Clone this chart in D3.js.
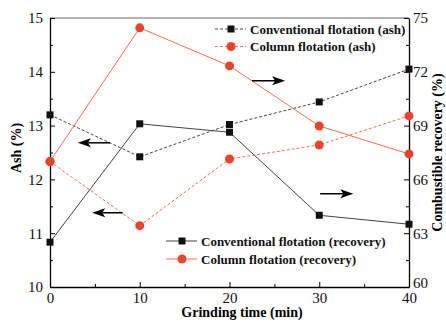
<!DOCTYPE html>
<html>
<head>
<meta charset="utf-8">
<script src="https://cdn.jsdelivr.net/npm/d3@7"></script>
<style>
   body { margin: 0; background: #fff; }
   svg text { font-family: 'Liberation Serif', 'Times New Roman', serif !important; }
</style>
</head>
<body>
<div id="chart"></div>
<script>
// grinding time (min)
const times = [0, 10, 20, 30, 40];
// ash (%) - left axis
const convAsh = [13.2, 12.42, 13.02, 13.44, 14.05];
const colAsh = [12.33, 11.14, 12.38, 12.64, 13.18];
// combustible recovery (%) - right axis
const convRec = [62.5, 69.1, 68.63, 64.0, 63.5];
const colRec = [67.0, 74.45, 72.33, 68.98, 67.42];

const xTicks = [0, 10, 20, 30, 40];
const ashTicks = [10, 11, 12, 13, 14, 15];
const recTicks = [60, 63, 66, 69, 72, 75];

// arrows: [x0, x1, y, axis]
const arrows = [
   [6.7, 3.1, 12.68, 'left'],
   [8.1, 4.7, 11.38, 'left'],
   [22.5, 26.2, 71.5, 'right'],
   [30.1, 33.8, 65.2, 'right']
];

const W = 446, H = 323;
const m = { top: 18, left: 50, right: 37, bottom: 36 };
const iw = W - m.left - m.right, ih = H - m.top - m.bottom;

const RED = '#f0412a', REDLINE = '#f4704f', BLK = '#111', BLKLINE = '#444';

let svg = d3.select('#chart').append('svg')
   .attr('width', W).attr('height', H);

let g = svg.append('g').attr('transform', `translate(${m.left},${m.top})`);

let x = d3.scaleLinear().domain([0, 40]).range([0, iw]);
let yL = d3.scaleLinear().domain([10, 15]).range([ih, 0]);
let yR = d3.scaleLinear().domain([60, 75]).range([ih, 0]);

// top frame line
g.append('line').attr('x1', 0).attr('x2', iw).attr('y1', 0).attr('y2', 0)
   .attr('stroke', '#999').attr('stroke-width', 1.5);

function styleAxis(sel) {
   sel.attr('font-family', null).attr('font-size', 15);
   sel.selectAll('path').attr('stroke', '#000').attr('stroke-width', 1.3);
   sel.selectAll('line').attr('stroke', '#000');
   sel.selectAll('text').attr('fill', '#111');
}

// minor ticks
g.append('g').attr('transform', `translate(0,${ih})`)
   .call(d3.axisBottom(x).tickValues([5, 15, 25, 35]).tickSize(-3).tickFormat(''))
   .call(s => s.select('path').remove()).selectAll('line').attr('stroke', '#000');
g.append('g')
   .call(d3.axisLeft(yL).tickValues([10.5, 11.5, 12.5, 13.5, 14.5]).tickSize(-3).tickFormat(''))
   .call(s => s.select('path').remove()).selectAll('line').attr('stroke', '#000');
g.append('g').attr('transform', `translate(${iw},0)`)
   .call(d3.axisRight(yR).tickValues([61.5, 64.5, 67.5, 70.5, 73.5]).tickSize(-3).tickFormat(''))
   .call(s => s.select('path').remove()).selectAll('line').attr('stroke', '#000');

g.append('g').attr('transform', `translate(0,${ih})`)
   .call(d3.axisBottom(x).tickValues(xTicks).tickFormat(d3.format('d'))
      .tickSizeInner(-5).tickSizeOuter(0).tickPadding(5))
   .call(styleAxis);
g.append('g')
   .call(d3.axisLeft(yL).tickValues(ashTicks).tickFormat(d3.format('d'))
      .tickSizeInner(-5).tickSizeOuter(0).tickPadding(7))
   .call(styleAxis);
g.append('g').attr('transform', `translate(${iw},0)`)
   .call(d3.axisRight(yR).tickValues(recTicks).tickFormat(d3.format('d'))
      .tickSizeInner(-5).tickSizeOuter(0).tickPadding(4))
   .call(styleAxis)
   .selectAll('text').filter(d => d === 60).attr('dy', '0.05em');

// axis titles
svg.append('text').attr('x', 242).attr('y', H - 6)
   .attr('text-anchor', 'middle').attr('font-size', 14).attr('font-weight', 'bold')
   .text('Grinding time (min)');
svg.append('text').attr('transform', `translate(21,148) rotate(-90)`)
   .attr('text-anchor', 'middle').attr('font-size', 14).attr('font-weight', 'bold')
   .text('Ash (%)');
svg.append('text').attr('transform', `translate(442,${m.top + ih / 2}) rotate(-90)`)
   .attr('text-anchor', 'middle').attr('font-size', 14).attr('font-weight', 'bold')
   .text('Combustible recovery (%)');

const series = [
   { vals: convAsh, y: yL, color: BLKLINE, mc: BLK, dash: '3,2', marker: 'square' },
   { vals: colAsh, y: yL, color: REDLINE, mc: RED, dash: '3,2', marker: 'circle' },
   { vals: convRec, y: yR, color: BLKLINE, mc: BLK, dash: null, marker: 'square' },
   { vals: colRec, y: yR, color: REDLINE, mc: RED, dash: null, marker: 'circle' }
];

series.forEach(s => {
   let pts = times.map((t, i) => [t, s.vals[i]]);
   g.append('path')
      .attr('d', d3.line().x(d => x(d[0])).y(d => s.y(d[1]))(pts))
      .attr('fill', 'none').attr('stroke', s.color).attr('stroke-width', 1)
      .attr('stroke-dasharray', s.dash);
   pts.forEach(d => drawMarker(g, s.marker, x(d[0]), s.y(d[1]), s.mc));
});

function drawMarker(parent, type, cx, cy, color) {
   if (type === 'square') {
      parent.append('rect').attr('x', cx - 3.5).attr('y', cy - 3.5)
         .attr('width', 7).attr('height', 7).attr('fill', color);
   } else {
      parent.append('circle').attr('cx', cx).attr('cy', cy).attr('r', 4.5).attr('fill', color);
   }
}

// arrows
arrows.forEach(a => {
   let yy = a[3] === 'left' ? yL(a[2]) : yR(a[2]);
   let x0 = x(a[0]), x1 = x(a[1]);
   let dir = Math.sign(x1 - x0);
   g.append('line').attr('x1', x0).attr('x2', x1 - dir * 10).attr('y1', yy).attr('y2', yy)
      .attr('stroke', '#000').attr('stroke-width', 1.5);
   g.append('path')
      .attr('d', `M${x1},${yy}L${x1 - dir * 13},${yy - 4.5}L${x1 - dir * 10},${yy}L${x1 - dir * 13},${yy + 4.5}Z`)
      .attr('fill', '#000');
});

// legends
const legendTop = [
   { label: 'Conventional flotation (ash)', color: BLKLINE, mc: BLK, dash: '3,2', marker: 'square' },
   { label: 'Column flotation (ash)', color: REDLINE, mc: RED, dash: '3,2', marker: 'circle' }
];
const legendBottom = [
   { label: 'Conventional flotation (recovery)', color: BLKLINE, mc: BLK, dash: null, marker: 'square' },
   { label: 'Column flotation (recovery)', color: REDLINE, mc: RED, dash: null, marker: 'circle' }
];

function drawLegend(items, lx, ly, step) {
   items.forEach((d, i) => {
      let yy = ly + i * step;
      svg.append('line').attr('x1', lx).attr('x2', lx + 31).attr('y1', yy).attr('y2', yy)
         .attr('stroke', d.color).attr('stroke-dasharray', d.dash);
      drawMarker(svg, d.marker, lx + 16, yy, d.mc);
      svg.append('text').attr('x', lx + 35).attr('y', yy + 4.5)
         .attr('font-size', 13).attr('font-weight', 'bold').attr('fill', '#111')
         .text(d.label);
   });
}
drawLegend(legendTop, 215, 29, 17.5);
drawLegend(legendBottom, 166, 241, 18);
</script>
</body>
</html>
